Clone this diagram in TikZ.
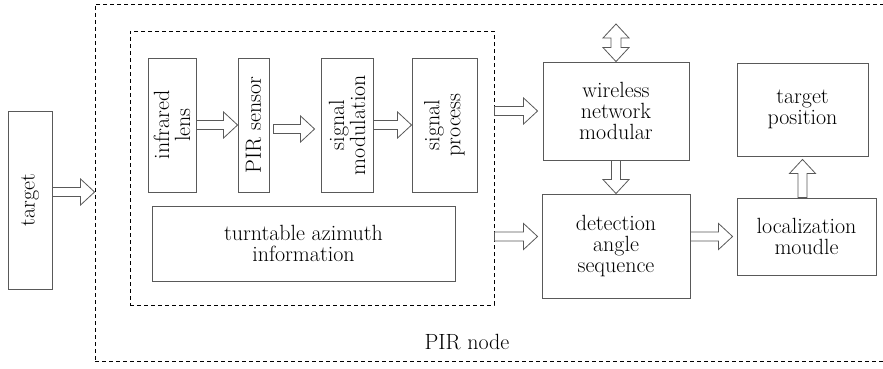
\documentclass[tikz,border=0pt]{standalone}
\usepackage{fontspec}
\usetikzlibrary{calc}

\tikzset{
  blk/.style={draw=black!65, line width=0.9pt, align=center, inner sep=0pt},
  dbox/.style={draw=black, line width=0.9pt, dash pattern=on 4pt off 3pt, inner sep=0pt},
  hollow/.style={draw=black!65, line width=0.8pt, to path={let
      \p1=($(\tikztotarget)!14pt!(\tikztostart)$),
      \p2=($(\tikztostart)!4.5pt!90:(\tikztotarget)$),
      \p3=($(\p1)!4.5pt!90:(\tikztotarget)$),
      \p4=($(\p1)!13pt!90:(\tikztotarget)$),
      \p5=($(\p1)!13pt!-90:(\tikztotarget)$),
      \p6=($(\p1)!4.5pt!-90:(\tikztotarget)$),
      \p7=($(\tikztostart)!4.5pt!-90:(\tikztotarget)$)
    in (\p2) -- (\p3) -- (\p4) -- (\tikztotarget) -- (\p5) -- (\p6) -- (\p7) -- cycle}},
  hollowboth/.style={draw=black!65, line width=0.8pt, to path={let
      \p1=($(\tikztostart)!14pt!(\tikztotarget)$),
      \p2=($(\tikztotarget)!14pt!(\tikztostart)$),
      \p3=($(\p1)!13pt!90:(\tikztotarget)$),
      \p4=($(\p1)!5pt!90:(\tikztotarget)$),
      \p5=($(\p2)!5pt!90:(\tikztotarget)$),
      \p6=($(\p2)!13pt!90:(\tikztotarget)$),
      \p7=($(\p2)!13pt!-90:(\tikztotarget)$),
      \p8=($(\p2)!5pt!-90:(\tikztotarget)$),
      \p9=($(\p1)!5pt!-90:(\tikztotarget)$),
      \p{a}=($(\p1)!13pt!-90:(\tikztotarget)$)
    in (\tikztostart) -- (\p3) -- (\p4) -- (\p5) -- (\p6) -- (\tikztotarget)
       -- (\p7) -- (\p8) -- (\p9) -- (\p{a}) -- cycle}},
}

\begin{document}
\begin{tikzpicture}[x=1pt,y=-1pt,every node/.style={font=\fontsize{22}{21}\selectfont}]
  \useasboundingbox (0,0) rectangle (883,369);

  % dashed frames
  \node[dbox, minimum width=790, minimum height=357] (pirnode) at (490,182.5) {};
  \node[dbox, minimum width=364, minimum height=274] (sens) at (312,168) {};
  \node (lbl) at (467,342) {PIR node};

  % boxes
  \node[blk, rotate=90, minimum width=178, minimum height=44] (tgt) at (30,200) {target};
  \node[blk, rotate=90, minimum width=134, minimum height=48] (lens) at (172,125) {infrared\\lens};
  \node[blk, rotate=90, minimum width=134, minimum height=31] (pir) at (253.5,125) {PIR sensor};
  \node[blk, rotate=90, minimum width=134, minimum height=52] (mod) at (347,125) {signal\\modulation};
  \node[blk, rotate=90, minimum width=134, minimum height=65] (proc) at (444.5,125) {signal\\process};
  \node[blk, minimum width=303, minimum height=75] (turn) at (303.5,243.5) {turntable azimuth\\information};
  \node[blk, minimum width=146, minimum height=98] (wl) at (616,111) {wireless\\network\\modular};
  \node[blk, minimum width=148, minimum height=104] (det) at (616,246) {detection\\angle\\sequence};
  \node[blk, minimum width=131, minimum height=93] (tp) at (802.5,109.5) {target\\position};
  \node[blk, minimum width=139, minimum height=77] (loc) at (806.5,236.5) {localization\\moudle};

  % arrow ends
  \coordinate (t1) at ([yshift=8pt]tgt.south);
  \coordinate (t2) at (t1 -| pirnode.west);
  \coordinate (p1) at ([xshift=4pt,yshift=-4pt]pir.south);
  \coordinate (p2) at ([xshift=-6pt,yshift=-4pt]mod.north);
  \coordinate (s1) at (wl.west -| sens.east);
  \coordinate (w1) at ([xshift=-5pt]wl.west);
  \coordinate (s2) at (loc.west -| sens.east);
  \coordinate (d1) at ([xshift=-4pt]loc.west -| det.west);
  \coordinate (d2) at (loc.west -| det.east);
  \coordinate (l1) at ([xshift=-4pt]loc.west);
  \coordinate (l2) at (tp.south |- loc.north);
  \coordinate (l3) at ([yshift=-3pt]tp.south);
  \coordinate (net) at (616,24);

  % arrows
  \foreach \from/\to in {t1/t2, lens.south/pir.north, p1/p2, mod.south/proc.north,
                         s1/w1, wl.south/det.north, s2/d1, d2/l1, l2/l3}
    \draw[hollow] (\from) to (\to);
  \draw[hollowboth] (net) to (wl.north);
\end{tikzpicture}
\end{document}
